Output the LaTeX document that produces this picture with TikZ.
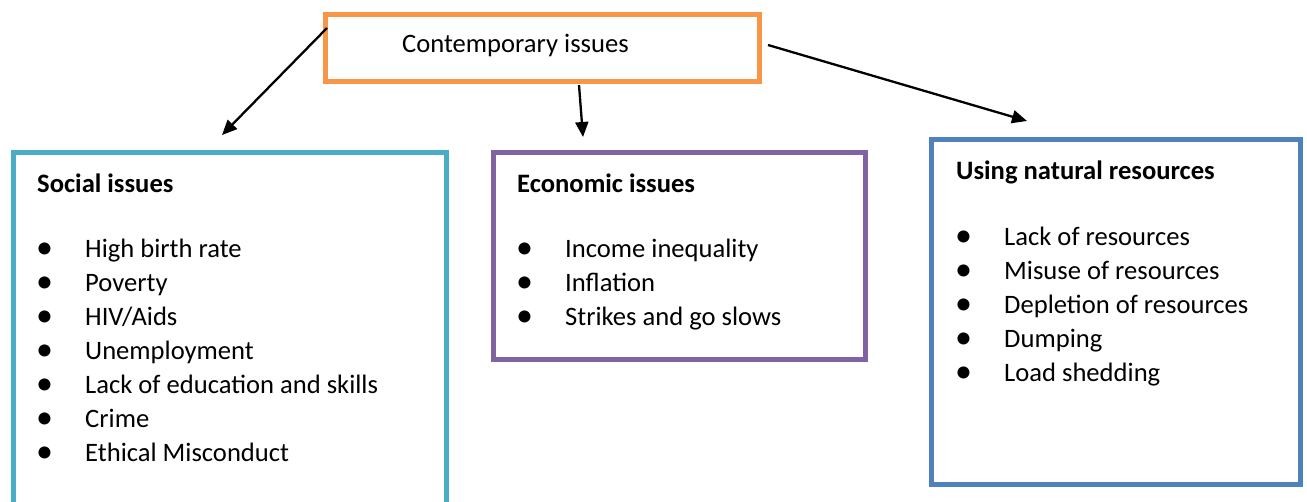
\documentclass[tikz,border=0pt]{standalone}
\usepackage{fontspec}
\setmainfont{Carlito}
\usetikzlibrary{arrows.meta}
\definecolor{corange}{HTML}{F79646}
\definecolor{ccyan}{HTML}{4BACC6}
\definecolor{cpurple}{HTML}{8064A2}
\definecolor{cblue}{HTML}{4F81BD}
\begin{document}
\begin{tikzpicture}[x=1pt,y=-1pt,
  box/.style={draw=#1, line width=5.5pt, inner sep=0pt, fill=white},
  txt/.style={anchor=base west, inner sep=0pt, font=\fontsize{26.6}{34}\selectfont},
  ttl/.style={anchor=base west, inner sep=0pt, font=\fontsize{26.6}{34}\selectfont\bfseries},
  bul/.style={anchor=base west, inner sep=0pt, font=\fontsize{34}{34}\selectfont},
  arr/.style={line width=2.3pt, -{Triangle[length=15pt,width=13pt]}}]
\useasboundingbox (0,0) rectangle (1307,501);
\clip (0,0) rectangle (1307,501);
\fill[white] (0,0) rectangle (1307,501);

% boxes
\node[box=corange, minimum width=434pt, minimum height=67pt] (top) at (542.5,48) {};
\node[box=ccyan, minimum width=433pt, minimum height=377pt] (soc) at (230,341) {};
\node[box=cpurple, minimum width=372pt, minimum height=207pt] (eco) at (679.5,256) {};
\node[box=cblue, minimum width=369pt, minimum height=345pt] (nat) at (1116,312) {};

% top label
\node[txt] (toplbl) at (402,52) {Contemporary issues};

% arrows
\coordinate (a1s) at (327,28);
\coordinate (a1e) at (222,135);
\coordinate (a2s) at (579,85);
\coordinate (a2e) at (583,137);
\coordinate (a3s) at (768,45);
\coordinate (a3e) at (1027,121);
\draw[arr] (a1s) -- (a1e);
\draw[arr] (a2s) -- (a2e);
\draw[arr] (a3s) -- (a3e);

% social
\node[ttl] (soct) at (37,192) {Social issues};
\foreach \t [count=\i from 0] in {High birth rate, Poverty, HIV/Aids, Unemployment, Lack of education and skills, Crime, Ethical Misconduct}{
  \node[bul] (socb\i) at (36,258+34*\i) {•};
  \node[txt] (soci\i) at (85,257+34*\i) {\t};
}

% economic
\node[ttl] (ecot) at (517,192) {Economic issues};
\foreach \t [count=\i from 0] in {Income inequality, Inflation, Strikes and go slows}{
  \node[bul] (ecob\i) at (516,258+34*\i) {•};
  \node[txt] (ecoi\i) at (565,257+34*\i) {\t};
}

% natural resources
\node[ttl] (natt) at (956,179) {Using natural resources};
\foreach \t [count=\i from 0] in {Lack of resources, Misuse of resources, Depletion of resources, Dumping, Load shedding}{
  \node[bul] (natb\i) at (955,246+34*\i) {•};
  \node[txt] (nati\i) at (1004,245+34*\i) {\t};
}
\end{tikzpicture}
\end{document}
